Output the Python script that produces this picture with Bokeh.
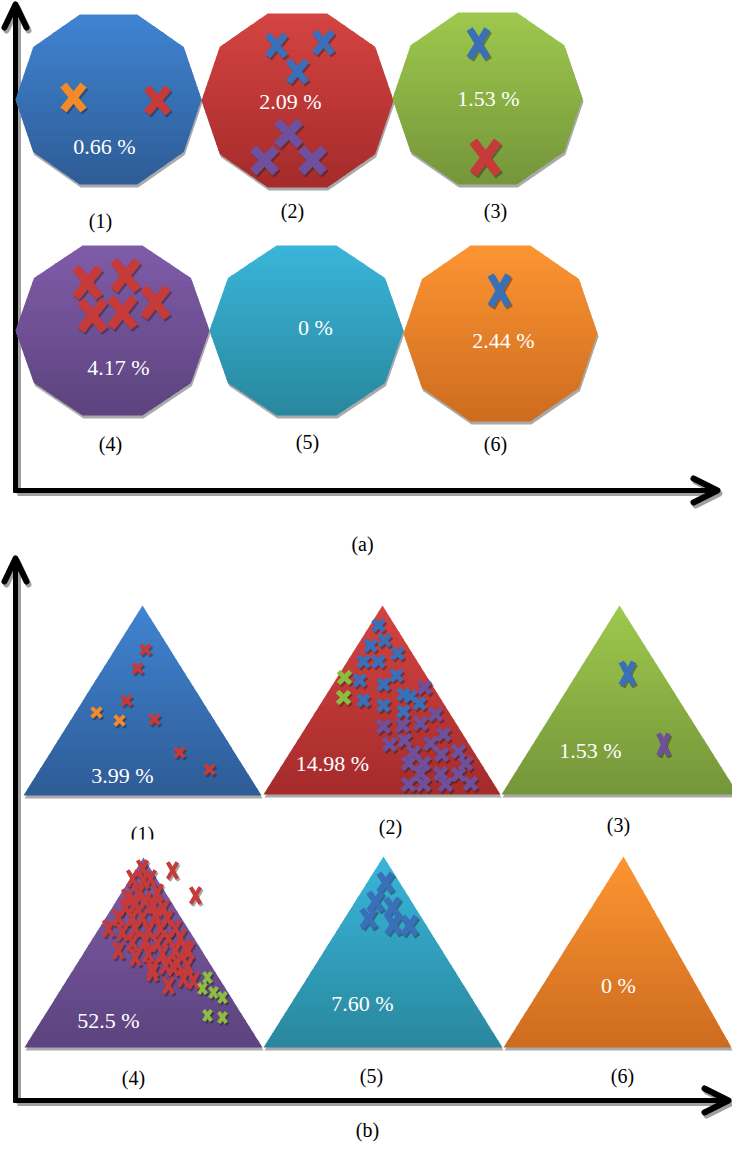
from bokeh.plotting import figure
from bokeh.models import Range1d
from bokeh.core.properties import value
from bokeh.embed import file_html
from bokeh.resources import INLINE
import math

# ---------------- data ----------------
panel_ids = ["(1)", "(2)", "(3)", "(4)", "(5)", "(6)"]
pct_a = ["0.66 %", "2.09 %", "1.53 %", "4.17 %", "0 %", "2.44 %"]
pct_b = ["3.99 %", "14.98 %", "1.53 %", "52.5 %", "7.60 %", "0 %"]

# marker positions, part (a)
a1_orange = [(73, 97)]
a1_red = [(157, 100)]
a2_blue = [(276, 45), (323, 42), (297, 71)]
a2_purple = [(288, 133), (264, 160), (312, 160)]
a3_blue = [(478, 43)]
a3_red = [(485, 157)]
a4_red = [(87, 282), (125, 275), (92, 315), (122, 312), (155, 302)]
a6_blue = [(499, 290)]

# marker positions, part (b)
b1_red = [(145, 649), (137, 668), (126, 700), (154, 719), (179, 752), (209, 769)]
b1_orange = [(96, 712), (119, 720)]
b2_blue = [(378, 625), (370, 645), (384, 640), (397, 653), (363, 661), (378, 661),
           (396, 675), (359, 680), (383, 684), (363, 700), (383, 705), (403, 694),
           (410, 696), (419, 703), (403, 711)]
b2_green = [(344, 677), (343, 697)]
b2_purple = [(424, 687), (435, 714), (383, 726), (402, 725), (420, 723), (443, 734),
             (389, 744), (404, 740), (430, 743), (413, 752), (441, 754), (458, 751),
             (408, 763), (423, 763), (465, 763), (420, 773), (440, 773), (458, 774),
             (408, 784), (423, 784), (445, 784), (470, 783)]
b3_blue = [(627, 673)]
b3_purple = [(663, 744)]
b4_red = [(172, 870), (195, 895), (142, 868), (132, 878), (143, 880), (150, 878),
          (127, 897), (138, 893), (157, 892), (125, 907), (135, 903), (145, 900),
          (153, 905), (163, 908), (118, 917), (132, 917), (142, 917), (155, 915),
          (167, 918), (108, 928), (122, 932), (135, 928), (148, 930), (160, 928),
          (175, 928), (118, 950), (132, 942), (145, 940), (157, 943), (168, 938),
          (180, 937), (135, 957), (148, 953), (162, 953), (175, 950), (185, 948),
          (152, 968), (165, 965), (177, 963), (187, 965), (152, 972), (168, 985),
          (183, 978), (193, 980), (173, 967), (188, 950)]
b4_green = [(207, 977), (202, 988), (213, 992), (222, 997), (207, 1015), (222, 1017)]
b5_blue = [(385, 882), (375, 901), (392, 907), (368, 918), (393, 924), (409, 925)]

# ---------------- layout / style ----------------
TOP = {"blue": ("#4084d2", "#2e5c96"), "red": ("#d44442", "#a52b2b"),
       "green": ("#9ec94d", "#75953a"), "purple": ("#805ca9", "#5c437e"),
       "cyan": ("#39b6da", "#29879e"), "orange": ("#fd9532", "#cd6c1f")}
MARK = {"blue": "#3a70ba", "red": "#c63b3a", "orange": "#f38a2b",
        "purple": "#6f509c", "green": "#8dbd40"}
shape_cols = ["blue", "red", "green", "purple", "cyan", "orange"]

dec_cx = [108, 297, 487, 112, 306, 500]
dec_cy = [99, 100, 98, 330, 330, 333]
dec_hw = [93, 96, 95, 97, 97, 97]
dec_hh = [85, 87, 86, 85, 85, 88]

tri_ax = [142, 382, 619, 143, 383, 623]
tri_ay = [605, 605, 605, 857, 856, 856]
tri_by = [795, 794, 794, 1047, 1047, 1047]
tri_l = [23, 263, 501, 24, 263, 503]
tri_r = [261, 500, 738, 262, 502, 731]

p = figure(width=732, height=1142, x_range=Range1d(0, 732), y_range=Range1d(1142, 0),
           output_backend="svg", toolbar_location=None, min_border=0,
           x_axis_location=None, y_axis_location=None)
p.xgrid.visible = False
p.ygrid.visible = False
p.outline_line_color = None
p.background_fill_color = "white"
p.border_fill_color = "white"


def hex2rgb(h):
    return tuple(int(h[i:i + 2], 16) for i in (1, 3, 5))


def mix(c0, c1, t):
    a, b = hex2rgb(c0), hex2rgb(c1)
    return "#%02x%02x%02x" % tuple(int(round(a[i] + (b[i] - a[i]) * t)) for i in range(3))


def clip_half(pts, y, keep_greater):
    out = []
    n = len(pts)
    for i in range(n):
        P, Q = pts[i], pts[(i + 1) % n]
        inP = P[1] >= y if keep_greater else P[1] <= y
        inQ = Q[1] >= y if keep_greater else Q[1] <= y
        if inP:
            out.append(P)
        if inP != inQ:
            t = (y - P[1]) / (Q[1] - P[1])
            out.append((P[0] + t * (Q[0] - P[0]), y))
    return out


def gradient_poly(pts, c_top, c_bot, nb=28):
    ys = [q[1] for q in pts]
    y0, y1 = min(ys), max(ys)
    p.patch([q[0] + 1 for q in pts], [q[1] + 3 for q in pts], fill_color="#a9a9a9",
            line_color=None)
    xs_l, ys_l, cols = [], [], []
    for k in range(nb):
        a = y0 + (y1 - y0) * k / nb
        b = y0 + (y1 - y0) * (k + 1) / nb
        band = clip_half(clip_half(pts, a - 0.6, True), b + 0.6, False)
        if len(band) < 3:
            continue
        xs_l.append([q[0] for q in band])
        ys_l.append([q[1] for q in band])
        cols.append(mix(c_top, c_bot, (k + 0.5) / nb))
    p.patches(xs_l, ys_l, fill_color=cols, line_color=None)


def draw_x(pts, color, w, h, lw):
    hw = w / 2 - lw * 0.3
    hh = h / 2 - lw * 0.3
    x0, y0, x1, y1 = [], [], [], []
    for (x, y) in pts:
        x0 += [x - hw, x - hw]
        y0 += [y - hh, y + hh]
        x1 += [x + hw, x + hw]
        y1 += [y + hh, y - hh]
    p.segment([v + 1.5 for v in x0], [v + 2 for v in y0], [v + 1.5 for v in x1],
              [v + 2 for v in y1], line_color="#1a1a1a", line_alpha=0.4, line_width=lw,
              line_cap="butt")
    p.segment(x0, y0, x1, y1, line_color=color, line_width=lw, line_cap="butt")


def axes(x, ytop, ybot, xright):
    p.line([x + 3, x + 3], [ytop + 4, ybot + 3], line_color="#a0a0a0", line_width=5)
    p.line([x + 2, xright + 1], [ybot + 3, ybot + 3], line_color="#a0a0a0", line_width=5)
    p.multi_line([[x - 11 + 2, x + 2, x + 11 + 2], [xright - 24 + 2, xright + 2, xright - 24 + 2]],
                 [[ytop + 23 + 3, ytop + 3, ytop + 23 + 3], [ybot - 12 + 3, ybot + 3, ybot + 12 + 3]],
                 line_color="#a0a0a0", line_width=6, line_cap="round", line_join="round")
    p.line([x, x], [ytop + 1, ybot + 2], line_color="black", line_width=5)
    p.line([x - 2, xright - 1], [ybot, ybot], line_color="black", line_width=5)
    p.multi_line([[x - 11, x, x + 11], [xright - 24, xright, xright - 24]],
                 [[ytop + 23, ytop, ytop + 23], [ybot - 12, ybot, ybot + 12]],
                 line_color="black", line_width=6, line_cap="round", line_join="round")


SERIF = value("Liberation Serif")

# ---------------- part (a) ----------------
axes(15, 4, 490, 717)
for i in range(6):
    c0, c1 = TOP[shape_cols[i]]
    pts = []
    for k in range(10):
        a = math.radians(36 * k)
        pts.append((dec_cx[i] + dec_hw[i] * math.cos(a),
                    dec_cy[i] + dec_hh[i] / math.sin(math.radians(72)) * math.sin(a)))
    gradient_poly(pts, c0, c1)

draw_x(a1_orange, MARK["orange"], 25, 30, 8)
draw_x(a1_red, MARK["red"], 26, 30, 8)
draw_x(a2_blue, MARK["blue"], 22, 26, 7)
draw_x(a2_purple, MARK["purple"], 28, 29, 9)
draw_x(a3_blue, MARK["blue"], 22, 33, 7)
draw_x(a3_red, MARK["red"], 30, 38, 9)
draw_x(a4_red, MARK["red"], 29, 35, 9)
draw_x(a6_blue, MARK["blue"], 22, 35, 7)

pa_x = [104, 290, 488, 118, 315, 503]
pa_y = [146, 101, 98, 367, 327, 340]
p.text(pa_x, pa_y, text=pct_a, text_color="white", text_font=SERIF, text_font_size="22px",
       text_align="center", text_baseline="middle")
la_x = [100, 292, 495, 110, 307, 495]
la_y = [220, 210, 210, 443, 441, 443]
p.text(la_x, la_y, text=panel_ids, text_color="black", text_font=SERIF, text_font_size="20px",
       text_align="center", text_baseline="middle")
p.text([362], [543], text=["(a)"], text_color="black", text_font=SERIF, text_font_size="20px",
       text_align="center", text_baseline="middle")

# ---------------- part (b) ----------------
axes(15, 558, 1100, 728)
lb_x = [142, 390, 618, 133, 371, 622]
lb_y = [833, 826, 824, 1077, 1075, 1075]
p.text(lb_x[:3], lb_y[:3], text=panel_ids[:3], text_color="black", text_font=SERIF,
       text_font_size="20px", text_align="center", text_baseline="middle")
# row-2 picture area covers the bottom of the row-1 captions
p.quad(left=[40], right=[720], top=[839], bottom=[852], fill_color="white", line_color=None)

for i in range(6):
    c0, c1 = TOP[shape_cols[i]]
    pts = [(tri_ax[i], tri_ay[i]), (tri_r[i], tri_by[i]), (tri_l[i], tri_by[i])]
    gradient_poly(pts, c0, c1)

draw_x(b1_red, MARK["red"], 12, 12, 4)
draw_x(b1_orange, MARK["orange"], 12, 12, 4)
draw_x(b2_blue, MARK["blue"], 14, 14, 5)
draw_x(b2_green, MARK["green"], 15, 15, 5)
draw_x(b2_purple, MARK["purple"], 15, 15, 5)
draw_x(b3_blue, MARK["blue"], 16, 27, 6)
draw_x(b3_purple, MARK["purple"], 13, 25, 5)
draw_x(b4_red, MARK["red"], 12, 19, 4)
draw_x(b4_green, MARK["green"], 10, 13, 4)
draw_x(b5_blue, MARK["blue"], 17, 22, 6)

pb_x = [122, 332, 590, 108, 362, 618]
pb_y = [775, 763, 750, 1020, 1003, 985]
p.text(pb_x, pb_y, text=pct_b, text_color="white", text_font=SERIF, text_font_size="22px",
       text_align="center", text_baseline="middle")
p.text(lb_x[3:], lb_y[3:], text=panel_ids[3:], text_color="black", text_font=SERIF,
       text_font_size="20px", text_align="center", text_baseline="middle")
p.text([367], [1129], text=["(b)"], text_color="black", text_font=SERIF, text_font_size="20px",
       text_align="center", text_baseline="middle")

open("out.html", "w").write(file_html(p, INLINE))
